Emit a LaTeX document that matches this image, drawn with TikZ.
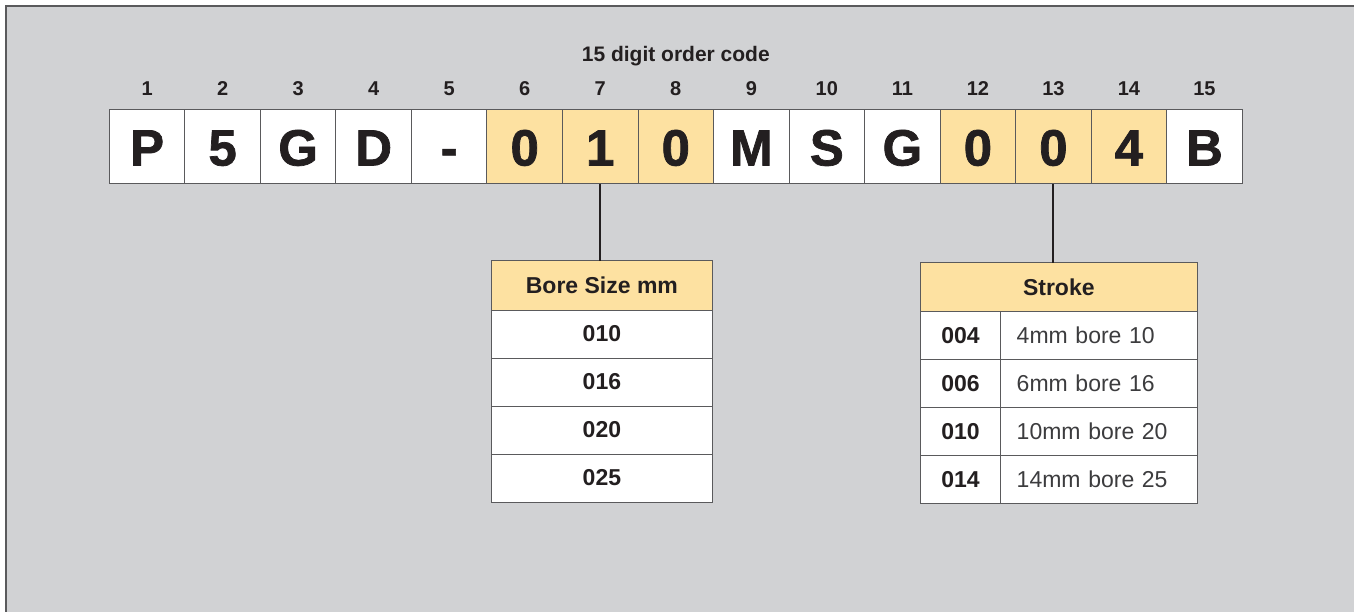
\documentclass[tikz,border=0pt]{standalone}
\usepackage{fontspec}
\setmainfont{Liberation Sans}
\newfontface\heavy[FakeBold=1.4]{Liberation Sans Bold}
\usetikzlibrary{positioning}
\definecolor{cBack}{HTML}{D1D2D4}
\definecolor{cHigh}{HTML}{FDE1A1}
\definecolor{cEdge}{HTML}{5A5A5C}
\definecolor{cInk}{HTML}{231F20}
\definecolor{cText}{HTML}{3C3C3E}
\tikzset{
  digit/.style  ={draw=cEdge, line width=1pt, fill=white, outer sep=0pt, inner sep=0pt,
                  minimum width=75.53pt, minimum height=74pt, text=cInk,
                  text height=37pt, text depth=0pt,
                  font=\fontsize{51}{51}\heavy},
  digithl/.style={digit, fill=cHigh},
  num/.style    ={text=cInk, font=\fontsize{20}{20}\selectfont\bfseries},
  head/.style   ={draw=cEdge, line width=1pt, fill=cHigh, outer sep=0pt, minimum height=49pt,
                  text=cInk, font=\fontsize{23}{23}\selectfont\bfseries},
  cell/.style   ={draw=cEdge, line width=1pt, fill=white, outer sep=0pt, minimum height=48pt,
                  text=cInk, font=\fontsize{23}{23}\selectfont\bfseries},
  note/.style   ={cell, text=cText, font=\fontsize{23}{23}\selectfont, inner xsep=16pt,
                  text width=164.6pt, align=left},
  link/.style   ={draw=cInk, line width=2pt},
}
\begin{document}
\begin{tikzpicture}[x=1pt,y=-1pt]
        \useasboundingbox (0,0) rectangle (1354,612);
        \fill[cBack] (6,6) rectangle (1354,612);
        \draw[cEdge, line width=1.5pt] (6,612) -- (6,6) -- (1354,6);
        % order code boxes
        \foreach \i/\ch in {1/P,2/5,3/G,4/D,5/-,9/M,10/S,11/G,15/B}
          \node[digit] (d\i) at ({109.3+(\i-0.5)*75.53},147) {\ch};
        \foreach \i/\ch in {6/0,7/1,8/0,12/0,13/0,14/4}
          \node[digithl] (d\i) at ({109.3+(\i-0.5)*75.53},147) {\ch};
        \foreach \i in {1,...,15}
          \node[num] (n\i) at ([yshift=21pt]d\i.north) {\i};
        \node[num, font=\fontsize{21}{21}\selectfont\bfseries] (code) at ([yshift=54pt]d8.north) {15 digit order code};
        % bore size table
        \node[head, minimum width=221.7pt] (bore) at (601.9,285.5) {Bore Size mm};
        \node[cell, minimum width=221.7pt, below=0pt of bore] (b1) {010};
        \node[cell, minimum width=221.7pt, below=0pt of b1] (b2) {016};
        \node[cell, minimum width=221.7pt, below=0pt of b2] (b3) {020};
        \node[cell, minimum width=221.7pt, below=0pt of b3] (b4) {025};
        % stroke table
        \node[head, minimum width=277pt] (stroke) at (1058.8,287.2) {Stroke};
        \node[cell, minimum width=80.4pt, anchor=north west] (s1) at (stroke.south west) {004};
        \node[cell, minimum width=80.4pt, below=0pt of s1] (s2) {006};
        \node[cell, minimum width=80.4pt, below=0pt of s2] (s3) {010};
        \node[cell, minimum width=80.4pt, below=0pt of s3] (s4) {014};
        \node[note, right=0pt of s1] (t1) {4mm bore 10};
        \node[note, right=0pt of s2] (t2) {6mm bore 16};
        \node[note, right=0pt of s3] (t3) {10mm bore 20};
        \node[note, right=0pt of s4] (t4) {14mm bore 25};
        % leader lines
        \draw[link] (d7.south) -- (d7.south |- bore.north);
        \draw[link] (d13.south) -- (d13.south |- stroke.north);
      \end{tikzpicture}
\end{document}
